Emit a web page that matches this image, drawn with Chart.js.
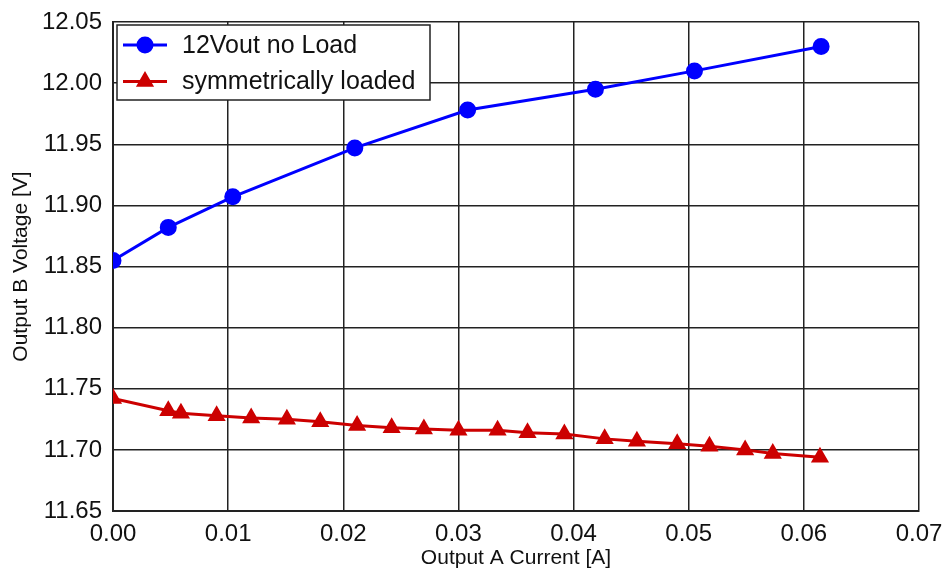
<!DOCTYPE html>
<html>
<head>
<meta charset="utf-8">
<script src="https://cdn.jsdelivr.net/npm/chart.js@4/dist/chart.umd.min.js"></script>
<style>
html,body{margin:0;padding:0;background:#fff;}
#wrap{width:945px;height:571px;position:relative;}
</style>
</head>
<body>
<div id="wrap"><canvas id="c" width="945" height="571"></canvas></div>
<script>
// ---- data ----
const noLoadLabel = "12Vout no Load";
const noLoadX = [0, 0.0048, 0.0104, 0.0210, 0.0308, 0.0419, 0.0505, 0.0615];
const noLoadY = [11.855, 11.882, 11.907, 11.947, 11.978, 11.995, 12.010, 12.030];

const symLabel = "symmetrically loaded";
const symX = [0, 0.0048, 0.0059, 0.0090, 0.0120, 0.0151, 0.0180, 0.0212, 0.0242, 0.0270, 0.0300,
              0.0334, 0.0360, 0.0392, 0.0427, 0.0455, 0.0490, 0.0518, 0.0549, 0.0573, 0.0614];
const symY = [11.742, 11.732, 11.730, 11.728, 11.726, 11.725, 11.723, 11.720, 11.718, 11.717, 11.716,
              11.716, 11.714, 11.713, 11.709, 11.707, 11.705, 11.703, 11.700, 11.697, 11.694];

const xTicks = [0.00, 0.01, 0.02, 0.03, 0.04, 0.05, 0.06, 0.07];
const yTicks = [11.65, 11.70, 11.75, 11.80, 11.85, 11.90, 11.95, 12.00, 12.05];
const xTitle = "Output A Current [A]";
const yTitle = "Output B Voltage [V]";

const FONT = "'Liberation Sans', Arial, sans-serif";
const toPts = (xs, ys) => xs.map((x, i) => ({x: x, y: ys[i]}));

const insideLegend = {
  id: 'insideLegend',
  afterDraw(chart) {
    const ctx = chart.ctx;
    const area = chart.chartArea;
    const bx = area.left + 4, by = area.top + 3, bw = 313, bh = 75;
    ctx.save();
    ctx.fillStyle = '#fff';
    ctx.fillRect(bx, by, bw, bh);
    ctx.strokeStyle = '#222';
    ctx.lineWidth = 1.5;
    ctx.strokeRect(bx, by, bw, bh);
    chart.data.datasets.forEach((ds, i) => {
      const cy = by + 20 + i * 36.5;
      ctx.strokeStyle = ds.borderColor;
      ctx.lineWidth = ds.borderWidth;
      ctx.beginPath();
      ctx.moveTo(bx + 6, cy);
      ctx.lineTo(bx + 50, cy);
      ctx.stroke();
      ctx.fillStyle = ds.pointBackgroundColor;
      ctx.strokeStyle = ds.pointBorderColor;
      Chart.helpers.drawPoint(ctx, {pointStyle: ds.pointStyle, radius: ds.pointRadius, rotation: 0, borderWidth: 1}, bx + 28, cy);
      ctx.fillStyle = '#111';
      ctx.font = '25px ' + FONT;
      ctx.textBaseline = 'middle';
      ctx.textAlign = 'left';
      ctx.fillText(ds.label, bx + 65, cy + 1);
    });
    ctx.restore();
  }
};

new Chart(document.getElementById('c'), {
  type: 'scatter',
  data: {
    datasets: [
      {
        label: noLoadLabel,
        data: toPts(noLoadX, noLoadY),
        showLine: true,
        borderColor: '#0000ff',
        backgroundColor: '#0000ff',
        pointBackgroundColor: '#0000ff',
        pointBorderColor: '#0000ff',
        borderWidth: 3,
        pointStyle: 'circle',
        pointRadius: 7,
        tension: 0
      },
      {
        label: symLabel,
        data: toPts(symX, symY),
        showLine: true,
        borderColor: '#cc0000',
        backgroundColor: '#cc0000',
        pointBackgroundColor: '#cc0000',
        pointBorderColor: '#cc0000',
        borderWidth: 3,
        pointStyle: 'triangle',
        pointRadius: 7.5,
        tension: 0
      }
    ]
  },
  options: {
    responsive: false,
    animation: false,
    layout: {padding: {top: 22, right: 26, left: 0, bottom: 0}},
    plugins: {legend: {display: false}, tooltip: {enabled: false}},
    scales: {
      x: {
        type: 'linear',
        min: 0, max: 0.07,
        afterBuildTicks: s => { s.ticks = xTicks.map(v => ({value: v})); },
        afterFit: s => { s.height = 60; s.paddingLeft = 0; s.paddingRight = 0; },
        grid: {color: '#222', lineWidth: 1.5, drawTicks: false},
        border: {color: '#222', width: 2},
        ticks: {color: '#111', font: {family: FONT, size: 24}, padding: 9,
                maxRotation: 0, autoSkip: false, callback: v => Number(v).toFixed(2)},
        title: {display: true, text: xTitle, color: '#111', font: {family: FONT, size: 21}, padding: {top: 0, bottom: 0}}
      },
      y: {
        type: 'linear',
        min: 11.65, max: 12.05,
        afterBuildTicks: s => { s.ticks = yTicks.map(v => ({value: v})); },
        afterFit: s => { s.width = 113; s.paddingTop = 0; s.paddingBottom = 0; },
        grid: {color: '#222', lineWidth: 1.5, drawTicks: false},
        border: {color: '#222', width: 2},
        ticks: {color: '#111', font: {family: FONT, size: 24}, padding: 11,
                autoSkip: false, callback: v => Number(v).toFixed(2)},
        title: {display: true, text: yTitle, color: '#111', font: {family: FONT, size: 21}, padding: {top: 9, bottom: 0}}
      }
    }
  },
  plugins: [insideLegend]
});
</script>
</body>
</html>
